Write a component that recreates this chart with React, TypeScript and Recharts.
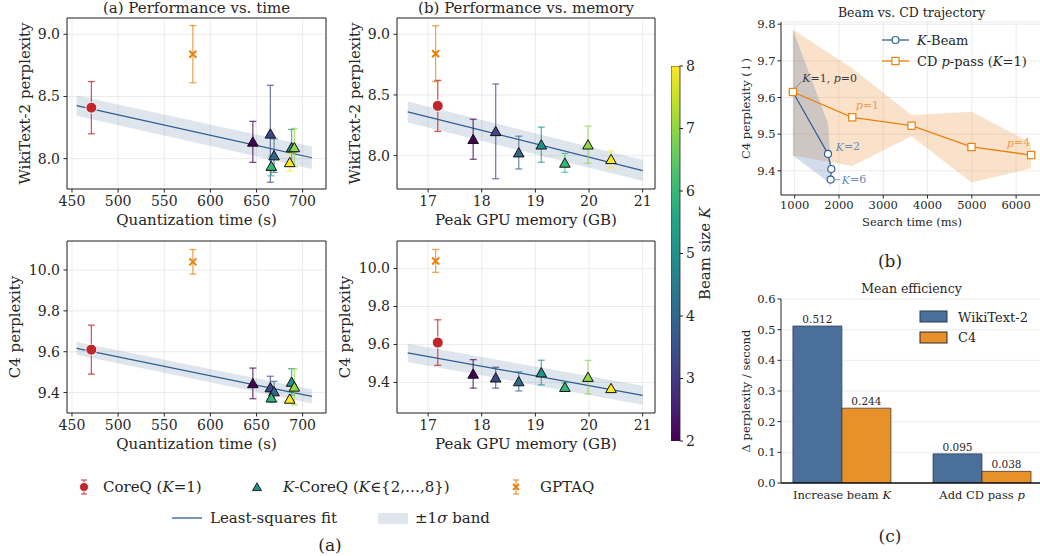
import React from "react";
import {
  Area,
  Bar,
  BarChart,
  CartesianGrid,
  ComposedChart,
  ErrorBar,
  LabelList,
  Line,
  ReferenceArea,
  ReferenceDot,
  ReferenceLine,
  Scatter,
  XAxis,
  YAxis,
} from "recharts";

const SERIF = "'DejaVu Serif', serif";
const INK = "#262626";
const GRID = "#e6e6e6";
const FIT = "#2f5d8f";
const RED = "#c0272d";
const ORANGE = "#e8800e";
const BEAM = "#34609a";
const CD = "#e8820c";

// K-CoreQ runs, K = 2..8
const beamK = [2, 3, 4, 5, 6, 7, 8];
const kColors = ["#440154", "#3f4788", "#31688e", "#21918c", "#35b779", "#8fd744", "#fde725"];
const kTime = [646, 665, 669, 688, 666, 691, 686];
const kMem = [17.84, 18.26, 18.69, 19.11, 19.55, 19.98, 20.41];
const kWiki = [8.135, 8.2, 8.025, 8.09, 7.94, 8.09, 7.97];
const kWikiErr = [0.165, 0.39, 0.135, 0.145, 0.078, 0.153, 0.07];
const kC4 = [9.445, 9.425, 9.405, 9.452, 9.375, 9.428, 9.369];
const kC4Err = [0.075, 0.055, 0.05, 0.065, 0.022, 0.088, 0.013];

// baselines: [CoreQ (K=1), GPTAQ]
const baseTime = [471, 581];
const baseMem = [17.18, 17.14];
const baseWiki = [8.41, 8.84];
const baseWikiErr = [0.21, 0.23];
const baseC4 = [9.61, 10.04];
const baseC4Err = [0.12, 0.06];

// least-squares fits (end points) and +-1 sigma half-widths
const fitTimeX = [455, 710];
const fitMemX = [16.62, 21.0];
const wikiFitTime = [8.426, 8.007];
const wikiBandTime = [0.082, 0.09];
const c4FitTime = [9.616, 9.381];
const c4BandTime = [0.031, 0.034];
const wikiFitMem = [8.36, 7.877];
const wikiBandMem = [0.087, 0.087];
const c4FitMem = [9.556, 9.332];
const c4BandMem = [0.048, 0.05];

const timeTicks = [450, 500, 550, 600, 650, 700];
const memTicks = [17, 18, 19, 20, 21];
const wikiTicks = [8.0, 8.5, 9.0];
const c4Ticks = [9.4, 9.6, 9.8, 10.0];

// beam vs CD trajectory
const beamTime = [960, 1752, 1827, 1812];
const beamPpl = [9.615, 9.446, 9.405, 9.376];
const beamBandX = [960, 1752, 1812];
const beamBandLo = [9.442, 9.37, 9.355];
const beamBandHi = [9.785, 9.53, 9.42];
const cdTime = [960, 2300, 3639, 4992, 6338];
const cdPpl = [9.615, 9.546, 9.523, 9.465, 9.443];
const cdLo = [9.442, 9.413, 9.494, 9.368, 9.407];
const cdHi = [9.785, 9.68, 9.552, 9.561, 9.476];
const trajXTicks = [1000, 2000, 3000, 4000, 5000, 6000];
const trajYTicks = [9.4, 9.5, 9.6, 9.7, 9.8];

// mean efficiency
const effCats = ["Increase beam ", "Add CD pass "];
const effVars = ["K", "p"];
const effWiki = [0.512, 0.095];
const effC4 = [0.244, 0.038];
const effTicks = [0, 0.1, 0.2, 0.3, 0.4, 0.5, 0.6];

const cbTicks = [2, 3, 4, 5, 6, 7, 8];
const viridis = ["#440154", "#482475", "#414487", "#355f8d", "#2a788e", "#21918c", "#22a884", "#44bf70", "#7ad151", "#bddf26", "#fde725"];

const I = (s: string) => <tspan fontStyle="italic">{s}</tspan>;

const xLabel = (node: React.ReactNode, dy: number, size: number) => (props: any) => {
  const vb = props.viewBox;
  return (
    <text x={vb.x + vb.width / 2} y={vb.y + dy} textAnchor="middle" dominantBaseline="central" fontSize={size} fontFamily={SERIF} fill={INK}>
      {node}
    </text>
  );
};

const yLabel = (node: React.ReactNode, dx: number, size: number) => (props: any) => {
  const vb = props.viewBox;
  const x = vb.x + dx;
  const y = vb.y + vb.height / 2;
  return (
    <text x={x} y={y} transform={`rotate(-90, ${x}, ${y})`} textAnchor="middle" dominantBaseline="central" fontSize={size} fontFamily={SERIF} fill={INK}>
      {node}
    </text>
  );
};

const triShape = (color: string) => (p: any) => (
  <path d={`M${p.cx},${p.cy - 5} L${p.cx + 5.3},${p.cy + 4.3} L${p.cx - 5.3},${p.cy + 4.3} Z`} fill={color} stroke="#111" strokeWidth={1} />
);
const dotShape = (p: any) => <circle cx={p.cx} cy={p.cy} r={5.5} fill={RED} stroke="#fff" strokeWidth={1} />;
const crossShape = (p: any) => (
  <path d={`M${p.cx - 3.5},${p.cy - 3.5} L${p.cx + 3.5},${p.cy + 3.5} M${p.cx - 3.5},${p.cy + 3.5} L${p.cx + 3.5},${p.cy - 3.5}`} stroke={ORANGE} strokeWidth={2} />
);

type PanelProps = {
  left: number;
  top: number;
  plotW: number;
  plotH: number;
  xs: number[];
  ys: number[];
  errs: number[];
  bxs: number[];
  bys: number[];
  berrs: number[];
  fitX: number[];
  fitY: number[];
  band: number[];
  xDomain: [number, number];
  xTicks: number[];
  yDomain: [number, number];
  yTicks: number[];
  xText: string;
  yText: string;
  yTextX: number;
};

function PerfPanel(p: PanelProps) {
  const fit = p.fitX.map((x, i) => ({ x, y: p.fitY[i] }));
  const band = p.fitX.map((x, i) => ({ x, b: [p.fitY[i] - p.band[i], p.fitY[i] + p.band[i]] }));
  const tick = { fill: INK, fontSize: 14, fontFamily: SERIF };
  return (
    <div style={{ position: "absolute", left: p.left, top: p.top }}>
      <ComposedChart width={67 + p.plotW + 2} height={18 + p.plotH + 40} margin={{ top: 18, right: 2, bottom: 0, left: 0 }}>
        <CartesianGrid stroke={GRID} strokeWidth={0.8} />
        <XAxis
          type="number"
          dataKey="x"
          domain={p.xDomain}
          ticks={p.xTicks}
          allowDataOverflow
          interval={0}
          height={40}
          axisLine={false}
          tickSize={3.5}
          tickMargin={3.5}
          tickLine={{ stroke: INK }}
          tick={tick}
          label={xLabel(p.xText, 31, 15)}
        />
        <YAxis
          type="number"
          domain={p.yDomain}
          ticks={p.yTicks}
          allowDataOverflow
          interval={0}
          width={67}
          axisLine={false}
          tickSize={3.5}
          tickMargin={3.5}
          tickLine={{ stroke: INK }}
          tick={tick}
          tickFormatter={(v: number) => v.toFixed(1)}
          label={yLabel(p.yText, p.yTextX, 15)}
        />
        <Area data={band} dataKey="b" type="linear" stroke="none" fill="#4a6f9c" fillOpacity={0.18} isAnimationActive={false} />
        <Line data={fit} dataKey="y" type="linear" stroke={FIT} strokeWidth={1.2} dot={false} isAnimationActive={false} />
        {p.xs.map((x, i) => (
          <Scatter key={beamK[i]} data={[{ x, y: p.ys[i], e: p.errs[i] }]} dataKey="y" shape={triShape(kColors[i])} isAnimationActive={false}>
            <ErrorBar dataKey="e" direction="y" width={3.5} stroke={kColors[i]} strokeOpacity={0.7} strokeWidth={1.3} />
          </Scatter>
        ))}
        <Scatter data={[{ x: p.bxs[0], y: p.bys[0], e: p.berrs[0] }]} dataKey="y" shape={dotShape} isAnimationActive={false}>
          <ErrorBar dataKey="e" direction="y" width={3.5} stroke={RED} strokeOpacity={0.75} strokeWidth={1.3} />
        </Scatter>
        <Scatter data={[{ x: p.bxs[1], y: p.bys[1], e: p.berrs[1] }]} dataKey="y" shape={crossShape} isAnimationActive={false}>
          <ErrorBar dataKey="e" direction="y" width={3.5} stroke={ORANGE} strokeOpacity={0.7} strokeWidth={1.3} />
        </Scatter>
        <ReferenceArea x1={p.xDomain[0]} x2={p.xDomain[1]} y1={p.yDomain[0]} y2={p.yDomain[1]} fill="none" stroke={INK} strokeWidth={1} ifOverflow="visible" />
      </ComposedChart>
    </div>
  );
}

function ColorBar() {
  const data = [{ c: "K", v: [beamK[0], beamK[beamK.length - 1]] }];
  return (
    <div style={{ position: "absolute", left: 671, top: 50 }}>
      <BarChart width={59} height={407} data={data} margin={{ top: 16, right: 0, bottom: 16, left: 0 }} barCategoryGap={0}>
        <defs>
          <linearGradient id="viridis" x1="0" y1="1" x2="0" y2="0">
            {viridis.map((c, i) => (
              <stop key={i} offset={i / (viridis.length - 1)} stopColor={c} />
            ))}
          </linearGradient>
        </defs>
        <XAxis dataKey="c" hide />
        <YAxis
          type="number"
          orientation="right"
          domain={[2, 8]}
          ticks={cbTicks}
          allowDataOverflow
          interval={0}
          width={50.5}
          axisLine={false}
          tickSize={3.5}
          tickMargin={3}
          tickLine={{ stroke: INK }}
          tick={{ fill: INK, fontSize: 14, fontFamily: SERIF }}
          label={yLabel(<>Beam size {I("K")}</>, 25.5, 15)}
        />
        <Bar dataKey="v" fill="url(#viridis)" stroke={INK} strokeWidth={0.8} isAnimationActive={false} />
      </BarChart>
    </div>
  );
}

const annoX = [1170, 2378, 1926, 2062, 5789];
const annoY = [9.653, 9.579, 9.466, 9.375, 9.476];
const annoColor = ["#3a3a3a", "#eb9d4c", "#6a8bb8", "#6a8bb8", "#eb9d4c"];
const annoText = [
  <>{I("K")}=1, {I("p")}=0</>,
  <>{I("p")}=1</>,
  <>{I("K")}=2</>,
  <>{I("K")}=6</>,
  <>{I("p")}=4</>,
];

const annoLabel = (node: React.ReactNode, color: string) => (props: any) => {
  const vb = props.viewBox;
  return (
    <text x={vb.x} y={vb.y} fill={color} fontSize={11} fontFamily={SERIF} dominantBaseline="central">
      {node}
    </text>
  );
};

function TrajectoryPanel() {
  const beam = beamTime.map((x, i) => ({ x, y: beamPpl[i] }));
  const beamBand = beamBandX.map((x, i) => ({ x, b: [beamBandLo[i], beamBandHi[i]] }));
  const cd = cdTime.map((x, i) => ({ x, y: cdPpl[i] }));
  const cdBand = cdTime.map((x, i) => ({ x, b: [cdLo[i], cdHi[i]] }));
  const tick = { fill: INK, fontSize: 11.5, fontFamily: SERIF };
  return (
    <div style={{ position: "absolute", left: 733, top: 0 }}>
      <ComposedChart width={48 + 262} height={22 + 173 + 40} margin={{ top: 22, right: 0, bottom: 0, left: 0 }}>
        <CartesianGrid stroke={GRID} strokeWidth={0.8} />
        <XAxis
          type="number"
          dataKey="x"
          domain={[691, 6607]}
          ticks={trajXTicks}
          allowDataOverflow
          interval={0}
          height={40}
          axisLine={{ stroke: INK }}
          tickSize={3.5}
          tickMargin={2}
          tickLine={{ stroke: INK }}
          tick={tick}
          label={xLabel("Search time (ms)", 27, 11.5)}
        />
        <YAxis
          type="number"
          domain={[9.334, 9.806]}
          ticks={trajYTicks}
          allowDataOverflow
          interval={0}
          width={48}
          axisLine={{ stroke: INK }}
          tickSize={3.5}
          tickMargin={2}
          tickLine={{ stroke: INK }}
          tick={tick}
          tickFormatter={(v: number) => v.toFixed(1)}
          label={yLabel("C4 perplexity (↓)", 12.5, 11.5)}
        />
        <Area data={cdBand} dataKey="b" type="linear" stroke="none" fill="#f0a050" fillOpacity={0.3} isAnimationActive={false} />
        <Area data={beamBand} dataKey="b" type="linear" stroke="none" fill="#4c72b0" fillOpacity={0.25} isAnimationActive={false} />
        <ReferenceLine segment={[{ x: 990, y: 9.622 }, { x: 1150, y: 9.643 }]} stroke="#777" strokeWidth={0.8} />
        <ReferenceLine segment={[{ x: 1870, y: 9.376 }, { x: 2030, y: 9.376 }]} stroke="#6a8bb8" strokeWidth={0.8} />
        <Line
          data={beam}
          dataKey="y"
          type="linear"
          stroke={BEAM}
          strokeWidth={1.3}
          isAnimationActive={false}
          dot={(d: any) => <circle key={d.index} cx={d.cx} cy={d.cy} r={3.5} fill="#fff" stroke={BEAM} strokeWidth={1.2} />}
        />
        <Line
          data={cd}
          dataKey="y"
          type="linear"
          stroke={CD}
          strokeWidth={1.3}
          isAnimationActive={false}
          dot={(d: any) => <rect key={d.index} x={d.cx - 3.6} y={d.cy - 3.6} width={7.2} height={7.2} fill="#fff" stroke={CD} strokeWidth={1.2} />}
        />
        {annoX.map((x, i) => (
          <ReferenceDot key={i} x={x} y={annoY[i]} r={0} fill="none" stroke="none" label={annoLabel(annoText[i], annoColor[i])} />
        ))}
      </ComposedChart>
    </div>
  );
}

const BarTick = (props: any) => {
  const { x, y, payload } = props;
  const i = payload.value as number;
  return (
    <text x={x} y={y} dy="0.71em" textAnchor="middle" fontSize={11.5} fontFamily={SERIF} fill={INK}>
      {effCats[i]}
      {I(effVars[i])}
    </text>
  );
};

function EfficiencyPanel() {
  const rows = effVars.map((_, i) => ({ x: i, wiki: effWiki[i], c4: effC4[i] }));
  const tick = { fill: INK, fontSize: 11.5, fontFamily: SERIF };
  const lab = { fill: INK, fontSize: 10.5, fontFamily: SERIF };
  return (
    <div style={{ position: "absolute", left: 733, top: 280 }}>
      <BarChart width={310} height={233} data={rows} margin={{ top: 19, right: 0, bottom: 0, left: 0 }} barGap={0}>
        <CartesianGrid vertical={false} stroke={GRID} strokeWidth={0.8} />
        <XAxis
          type="number"
          dataKey="x"
          domain={[-0.435, 1.435]}
          ticks={[0, 1]}
          allowDataOverflow
          interval={0}
          height={30}
          axisLine={{ stroke: "#111", strokeWidth: 1.6 }}
          tickLine={false}
          tickSize={6}
          tickMargin={2}
          tick={<BarTick />}
        />
        <YAxis
          type="number"
          domain={[0, 0.6]}
          ticks={effTicks}
          allowDataOverflow
          interval={0}
          width={48}
          axisLine={{ stroke: INK }}
          tickSize={3.5}
          tickMargin={2}
          tickLine={{ stroke: INK }}
          tick={tick}
          tickFormatter={(v: number) => v.toFixed(1)}
          label={yLabel("Δ perplexity / second", 13, 11.5)}
        />
        <Bar dataKey="wiki" barSize={49} fill="#4a6f98" stroke="#2b3a4c" strokeOpacity={0.7} strokeWidth={1} isAnimationActive={false}>
          <LabelList dataKey="wiki" position="top" offset={3} style={lab} formatter={(v: any) => Number(v).toFixed(3)} />
        </Bar>
        <Bar dataKey="c4" barSize={49} fill="#e8912a" stroke="#2b2b2b" strokeOpacity={0.7} strokeWidth={1} isAnimationActive={false}>
          <LabelList dataKey="c4" position="top" offset={3} style={lab} formatter={(v: any) => Number(v).toFixed(3)} />
        </Bar>
      </BarChart>
    </div>
  );
}

function Txt({ x, y, size, children, align = "center", color = INK }: { x: number; y: number; size: number; children: React.ReactNode; align?: "center" | "left"; color?: string }) {
  return (
    <div
      style={{
        position: "absolute",
        left: x,
        top: y,
        transform: align === "center" ? "translate(-50%, -50%)" : "translateY(-50%)",
        fontSize: size,
        lineHeight: 1,
        whiteSpace: "nowrap",
        color,
      }}
    >
      {children}
    </div>
  );
}

function Icon({ x, y, w, h, children }: { x: number; y: number; w: number; h: number; children: React.ReactNode }) {
  return (
    <svg style={{ position: "absolute", left: x - w / 2, top: y - h / 2 }} width={w} height={h} viewBox={`${-w / 2} ${-h / 2} ${w} ${h}`}>
      {children}
    </svg>
  );
}

const errIcon = (color: string) => (
  <g stroke={color} strokeWidth={1.3} strokeOpacity={0.75}>
    <line x1={0} y1={-7} x2={0} y2={7} />
    <line x1={-3} y1={-7} x2={3} y2={-7} />
    <line x1={-3} y1={7} x2={3} y2={7} />
  </g>
);

function FigureLegend() {
  const r1 = 487;
  const r2 = 518;
  return (
    <>
      <Icon x={84} y={r1} w={14} h={18}>
        {errIcon(RED)}
        <circle r={4.5} fill={RED} stroke="#fff" strokeWidth={0.8} />
      </Icon>
      <Txt x={103} y={r1} size={15} align="left">
        CoreQ (<i>K</i>=1)
      </Txt>
      <Icon x={257} y={r1} w={14} h={14}>
        <path d="M0,-4.2 L4.5,3.6 L-4.5,3.6 Z" fill="#21918c" stroke="#111" strokeWidth={0.9} />
      </Icon>
      <Txt x={283} y={r1} size={15} align="left">
        <i>K</i>-CoreQ (<i>K</i>∈{"{"}2,…,8{"}"})
      </Txt>
      <Icon x={516} y={r1} w={14} h={18}>
        {errIcon(ORANGE)}
        <path d="M-3,-3 L3,3 M-3,3 L3,-3" stroke={ORANGE} strokeWidth={1.8} />
      </Icon>
      <Txt x={540} y={r1} size={15} align="left">
        GPTAQ
      </Txt>
      <Icon x={187} y={r2} w={30} h={6}>
        <line x1={-15} y1={0} x2={15} y2={0} stroke={FIT} strokeWidth={1.3} />
      </Icon>
      <Txt x={210} y={r2} size={15} align="left">
        Least-squares fit
      </Txt>
      <Icon x={393} y={r2} w={30} h={11}>
        <rect x={-15} y={-5.5} width={30} height={11} fill="#dee5ed" />
      </Icon>
      <Txt x={415} y={r2} size={15} align="left">
        ±1<i>σ</i> band
      </Txt>
      <Txt x={330} y={545} size={17}>
        (a)
      </Txt>
    </>
  );
}

function RightLegends() {
  return (
    <>
      <Icon x={895} y={40} w={27} h={10}>
        <line x1={-13.5} y1={0} x2={13.5} y2={0} stroke={BEAM} strokeWidth={1.3} />
        <circle r={3.5} fill="#fff" stroke={BEAM} strokeWidth={1.2} />
      </Icon>
      <Txt x={917} y={40} size={13} align="left">
        <i>K</i>-Beam
      </Txt>
      <Icon x={895} y={61} w={27} h={10}>
        <line x1={-13.5} y1={0} x2={13.5} y2={0} stroke={CD} strokeWidth={1.3} />
        <rect x={-3.6} y={-3.6} width={7.2} height={7.2} fill="#fff" stroke={CD} strokeWidth={1.2} />
      </Icon>
      <Txt x={917} y={61} size={13} align="left">
        CD <i>p</i>-pass (<i>K</i>=1)
      </Txt>
      <Icon x={933.5} y={316.5} w={29} h={13}>
        <rect x={-13.5} y={-5.5} width={27} height={11} fill="#4a6f98" stroke="#2b3a4c" strokeWidth={1} />
      </Icon>
      <Txt x={958} y={316.5} size={13} align="left">
        WikiText-2
      </Txt>
      <Icon x={933.5} y={337} w={29} h={13}>
        <rect x={-13.5} y={-5.5} width={27} height={11} fill="#e8912a" stroke="#2b2b2b" strokeWidth={1} />
      </Icon>
      <Txt x={958} y={337} size={13} align="left">
        C4
      </Txt>
    </>
  );
}

export default function App() {
  return (
    <div
      style={{
        position: "absolute",
        left: 0,
        top: 0,
        width: 1040,
        height: 556,
        overflow: "hidden",
        background: "#fff",
        fontFamily: SERIF,
        color: INK,
      }}
    >
      <Txt x={196.5} y={8} size={15}>
        (a) Performance vs. time
      </Txt>
      <Txt x={526} y={8} size={15}>
        (b) Performance vs. memory
      </Txt>
      <PerfPanel
        left={0}
        top={0}
        plotW={259}
        plotH={171}
        xs={kTime}
        ys={kWiki}
        errs={kWikiErr}
        bxs={baseTime}
        bys={baseWiki}
        berrs={baseWikiErr}
        fitX={fitTimeX}
        fitY={wikiFitTime}
        band={wikiBandTime}
        xDomain={[444.6, 725.3]}
        xTicks={timeTicks}
        yDomain={[7.756, 9.131]}
        yTicks={wikiTicks}
        xText="Quantization time (s)"
        yText="WikiText-2 perplexity"
        yTextX={25}
      />
      <PerfPanel
        left={330}
        top={0}
        plotW={258}
        plotH={171}
        xs={kMem}
        ys={kWiki}
        errs={kWikiErr}
        bxs={baseMem}
        bys={baseWiki}
        berrs={baseWikiErr}
        fitX={fitMemX}
        fitY={wikiFitMem}
        band={wikiBandMem}
        xDomain={[16.42, 21.23]}
        xTicks={memTicks}
        yDomain={[7.725, 9.134]}
        yTicks={wikiTicks}
        xText="Peak GPU memory (GB)"
        yText="WikiText-2 perplexity"
        yTextX={25}
      />
      <PerfPanel
        left={0}
        top={223}
        plotW={259}
        plotH={172}
        xs={kTime}
        ys={kC4}
        errs={kC4Err}
        bxs={baseTime}
        bys={baseC4}
        berrs={baseC4Err}
        fitX={fitTimeX}
        fitY={c4FitTime}
        band={c4BandTime}
        xDomain={[444.6, 725.3]}
        xTicks={timeTicks}
        yDomain={[9.3, 10.142]}
        yTicks={c4Ticks}
        xText="Quantization time (s)"
        yText="C4 perplexity"
        yTextX={15}
      />
      <PerfPanel
        left={330}
        top={223}
        plotW={258}
        plotH={172}
        xs={kMem}
        ys={kC4}
        errs={kC4Err}
        bxs={baseMem}
        bys={baseC4}
        berrs={baseC4Err}
        fitX={fitMemX}
        fitY={c4FitMem}
        band={c4BandMem}
        xDomain={[16.42, 21.23]}
        xTicks={memTicks}
        yDomain={[9.239, 10.145]}
        yTicks={c4Ticks}
        xText="Peak GPU memory (GB)"
        yText="C4 perplexity"
        yTextX={15}
      />
      <ColorBar />
      <FigureLegend />
      <Txt x={911.5} y={13} size={12.5}>
        Beam vs. CD trajectory
      </Txt>
      <TrajectoryPanel />
      <Txt x={890} y={261} size={17}>
        (b)
      </Txt>
      <Txt x={911.5} y={288.5} size={12.5}>
        Mean efficiency
      </Txt>
      <EfficiencyPanel />
      <Txt x={890} y={536} size={17}>
        (c)
      </Txt>
      <RightLegends />
    </div>
  );
}
